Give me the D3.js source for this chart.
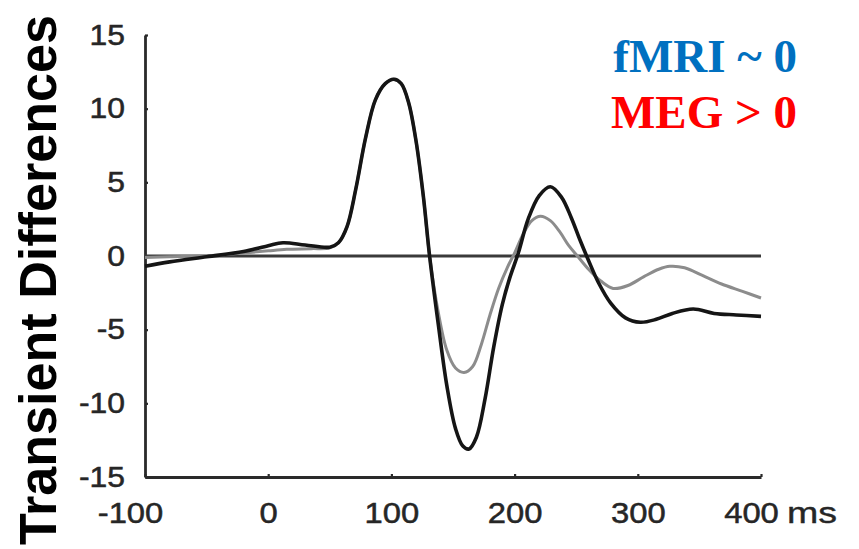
<!DOCTYPE html>
<html>
<head>
<meta charset="utf-8">
<script src="https://cdn.jsdelivr.net/npm/d3@7"></script>
<style>
  body { margin: 0; background: #fff; }
  svg { display: block; }
</style>
</head>
<body>
<svg class="chart" width="859" height="549"></svg>
<script>
// time points (ms) and the two traces
var timesMEG = [-100, -80, -50, -20, 0, 12, 30, 50, 57, 64, 71, 79, 87, 95, 102, 108, 114, 120, 126, 131, 138, 145, 152, 158, 163, 169, 176, 183, 190, 196, 203, 211, 220, 229, 238, 246, 253, 260, 268, 278, 290, 302, 315, 328, 345, 362, 380, 400];
var valuesMEG = [-0.7, -0.4, -0.05, 0.3, 0.7, 0.9, 0.75, 0.6, 0.9, 2.0, 4.5, 8.0, 10.6, 11.7, 12.0, 11.7, 10.4, 7.8, 4.0, 0.0, -4.6, -8.8, -11.7, -12.9, -13.1, -12.3, -9.7, -6.2, -3.3, -1.5, 0.2, 2.5, 4.1, 4.7, 4.0, 2.6, 1.1, -0.3, -1.8, -3.2, -4.2, -4.5, -4.3, -3.9, -3.6, -3.9, -4.0, -4.1];

var timesFMRI = [-100, -80, -50, -20, 0, 15, 35, 50, 57, 64, 71, 79, 87, 95, 102, 108, 114, 120, 126, 131, 138, 145, 152, 159, 166, 173, 180, 187, 194, 200, 207, 214, 221, 229, 237, 244, 251, 260, 270, 280, 292, 305, 317, 326, 338, 352, 368, 385, 400];
var valuesFMRI = [-0.1, -0.05, 0.0, 0.2, 0.35, 0.45, 0.5, 0.55, 0.9, 2.0, 4.5, 8.0, 10.6, 11.7, 12.0, 11.7, 10.4, 7.8, 4.0, 0.0, -3.8, -6.4, -7.6, -7.9, -7.5, -6.0, -4.0, -2.2, -0.8, 0.2, 1.5, 2.4, 2.7, 2.4, 1.6, 0.7, 0.0, -0.9, -1.7, -2.2, -2.0, -1.4, -0.9, -0.7, -0.8, -1.3, -1.9, -2.4, -2.85];

var xTicks = [-100, 0, 100, 200, 300, 400];
var yTicks = [-15, -10, -5, 0, 5, 10, 15];

var svg = d3.select("svg.chart");

var x = d3.scaleLinear().domain([-100, 400]).range([145, 761]);
var y = d3.scaleLinear().domain([-15, 15]).range([477, 35]);

var tickFont = "Arial, 'Liberation Sans', sans-serif";
var fmt = function (d) { return String(d); }; // plain hyphen like the source

// stretch tick labels a bit, the source glyphs are wider than Arial
function widen(sel, k) {
    sel.each(function () {
        var w = this.getComputedTextLength();
        d3.select(this).attr("textLength", w * k).attr("lengthAdjust", "spacingAndGlyphs");
    });
}

// y axis
var yAxis = svg.append("g")
    .attr("transform", "translate(" + x(-100) + ",0)")
    .call(d3.axisLeft(y).tickValues(yTicks).tickFormat(fmt).tickSizeInner(-3).tickSizeOuter(0).tickPadding(20));
yAxis.select(".domain").attr("stroke", "#2a2a2a").attr("stroke-width", 2.8);
yAxis.selectAll(".tick line").attr("stroke", "#2a2a2a").attr("stroke-width", 2.2);
yAxis.selectAll(".tick text")
    .attr("font-family", tickFont)
    .attr("font-size", 29)
    .attr("fill", "#262626")
    .attr("stroke", "#262626")
    .attr("stroke-width", 0.5)
    .call(widen, 1.1);

// x axis
var xAxis = svg.append("g")
    .attr("transform", "translate(0," + y(-15) + ")")
    .call(d3.axisBottom(x).tickValues(xTicks).tickFormat(fmt).tickSizeInner(-3).tickSizeOuter(0).tickPadding(25));
xAxis.select(".domain").attr("stroke", "#2a2a2a").attr("stroke-width", 2.8);
xAxis.selectAll(".tick line").attr("stroke", "#2a2a2a").attr("stroke-width", 2.2);
xAxis.selectAll(".tick text")
    .attr("font-family", tickFont)
    .attr("font-size", 29)
    .attr("fill", "#262626")
    .attr("stroke", "#262626")
    .attr("stroke-width", 0.5)
    .attr("dx", function (d) { return d == -100 ? -15 : (d == 400 ? -10 : 0); })
    .call(widen, 1.13);

svg.append("text")
    .attr("x", 787)
    .attr("y", 523)
    .attr("font-family", tickFont)
    .attr("font-size", 30)
    .attr("fill", "#262626")
    .attr("stroke", "#262626")
    .attr("stroke-width", 0.4)
    .attr("textLength", 50)
    .attr("lengthAdjust", "spacingAndGlyphs")
    .text("ms");

// zero line
svg.append("line")
    .attr("x1", x(-100)).attr("x2", x(400))
    .attr("y1", y(0)).attr("y2", y(0))
    .attr("stroke", "#3a3a3a")
    .attr("stroke-width", 2.8);

var line = d3.line()
    .x(function (d) { return x(d[0]); })
    .y(function (d) { return y(d[1]); })
    .curve(d3.curveCatmullRom.alpha(0.5));

svg.append("path")
    .datum(d3.zip(timesFMRI, valuesFMRI))
    .attr("d", line)
    .attr("fill", "none")
    .attr("stroke", "#8c8c8c")
    .attr("stroke-width", 3);

svg.append("path")
    .datum(d3.zip(timesMEG, valuesMEG))
    .attr("d", line)
    .attr("fill", "none")
    .attr("stroke", "#151515")
    .attr("stroke-width", 3.6);

// y label
svg.append("text")
    .attr("transform", "translate(56,280) rotate(-90)")
    .attr("text-anchor", "middle")
    .attr("font-family", tickFont)
    .attr("font-weight", "bold")
    .attr("font-size", 51)
    .attr("fill", "#000")
    .attr("textLength", 530)
    .attr("lengthAdjust", "spacingAndGlyphs")
    .text("Transient Differences");

// legend
svg.append("text")
    .attr("x", 797).attr("y", 72)
    .attr("text-anchor", "end")
    .attr("font-family", "'Liberation Serif', 'Times New Roman', serif")
    .attr("font-weight", "bold")
    .attr("font-size", 47)
    .attr("fill", "#0070c0")
    .text("fMRI ~ 0");

svg.append("text")
    .attr("x", 797).attr("y", 128)
    .attr("text-anchor", "end")
    .attr("font-family", "'Liberation Serif', 'Times New Roman', serif")
    .attr("font-weight", "bold")
    .attr("font-size", 47)
    .attr("fill", "#ff0000")
    .text("MEG > 0");
</script>
</body>
</html>
